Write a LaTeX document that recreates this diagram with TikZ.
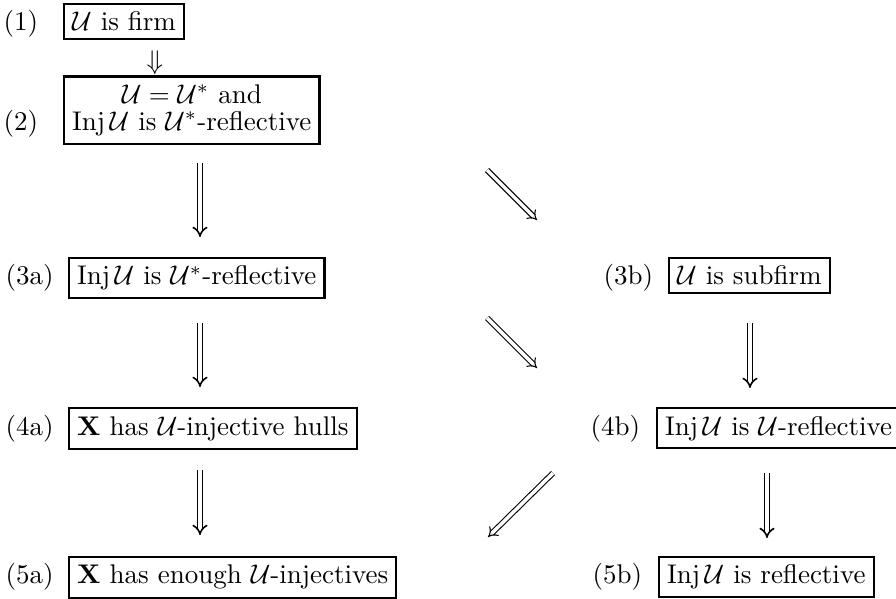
\documentclass[tikz,border=0pt]{standalone}
\usetikzlibrary{arrows.meta}
\begin{document}
\begin{tikzpicture}
	\tikzstyle{cond}=[draw, line width=0.8pt, inner sep=3pt, anchor=base west]
	\tikzstyle{num}=[inner sep=0pt, anchor=base west]
	\tikzstyle{impl}=[double, double distance=1.3pt, line width=0.6pt, -{Implies[length=4pt, width=10pt]}]
	\useasboundingbox (0,0) rectangle (11.662,-7.784);
	
	% left column
	\node[num] (n1) at (0.04,-0.403) {(1)};
	\node[cond] (c1) at (0.820,-0.403) {$\mathcal{U}$ is firm};
	\node[inner sep=0pt] (dn) at (2.017,-0.820) {$\Downarrow$};
	\node[num] (n2) at (0.04,-1.705) {(2)};
	\node[cond, anchor=west, align=center] (c2) at (0.820,-1.432) {$\mathcal{U}=\mathcal{U}^*$ and\\[-2pt] $\mathrm{Inj}\,\mathcal{U}$ is $\mathcal{U}^*$-reflective};
	\node[num] (n3a) at (0.065,-3.709) {(3a)};
	\node[cond] (c3a) at (0.885,-3.709) {$\mathrm{Inj}\,\mathcal{U}$ is $\mathcal{U}^*$-reflective};
	\node[num] (n4a) at (0.065,-5.662) {(4a)};
	\node[cond] (c4a) at (0.885,-5.662) {$\mathbf{X}$ has $\mathcal{U}$-injective hulls};
	\node[num] (n5a) at (0.065,-7.601) {(5a)};
	\node[cond] (c5a) at (0.885,-7.601) {$\mathbf{X}$ has enough $\mathcal{U}$-injectives};
	
	% right column
	\node[num] (n3b) at (7.849,-3.709) {(3b)};
	\node[cond] (c3b) at (8.695,-3.709) {$\mathcal{U}$ is subfirm};
	\node[num] (n4b) at (7.679,-5.662) {(4b)};
	\node[cond] (c4b) at (8.539,-5.662) {$\mathrm{Inj}\,\mathcal{U}$ is $\mathcal{U}$-reflective};
	\node[num] (n5b) at (7.705,-7.601) {(5b)};
	\node[cond] (c5b) at (8.565,-7.601) {$\mathrm{Inj}\,\mathcal{U}$ is reflective};
	
	% arrow ends
	\coordinate (a1) at (2.603,-2.122); \coordinate (b1) at (2.603,-3.085);
	\coordinate (a2) at (2.603,-4.204); \coordinate (b2) at (2.603,-5.037);
	\coordinate (a3) at (2.603,-6.118); \coordinate (b3) at (2.603,-6.964);
	\coordinate (a4) at (9.762,-4.204); \coordinate (b4) at (9.762,-5.050);
	\coordinate (a5) at (9.983,-6.157); \coordinate (b5) at (9.983,-7.003);
	\coordinate (d1) at (6.339,-2.213); \coordinate (e1) at (6.990,-2.864);
	\coordinate (d2) at (6.339,-4.139); \coordinate (e2) at (6.990,-4.790);
	\coordinate (d3) at (7.198,-6.157); \coordinate (e3) at (6.352,-6.990);
	
	\draw[impl] (a1) -- (b1);
	\draw[impl] (a2) -- (b2);
	\draw[impl] (a3) -- (b3);
	\draw[impl] (a4) -- (b4);
	\draw[impl] (a5) -- (b5);
	\draw[impl, line width=0.4pt] (d1) -- (e1);
	\draw[impl, line width=0.4pt] (d2) -- (e2);
	\draw[impl, line width=0.4pt] (d3) -- (e3);
\end{tikzpicture}
\end{document}
